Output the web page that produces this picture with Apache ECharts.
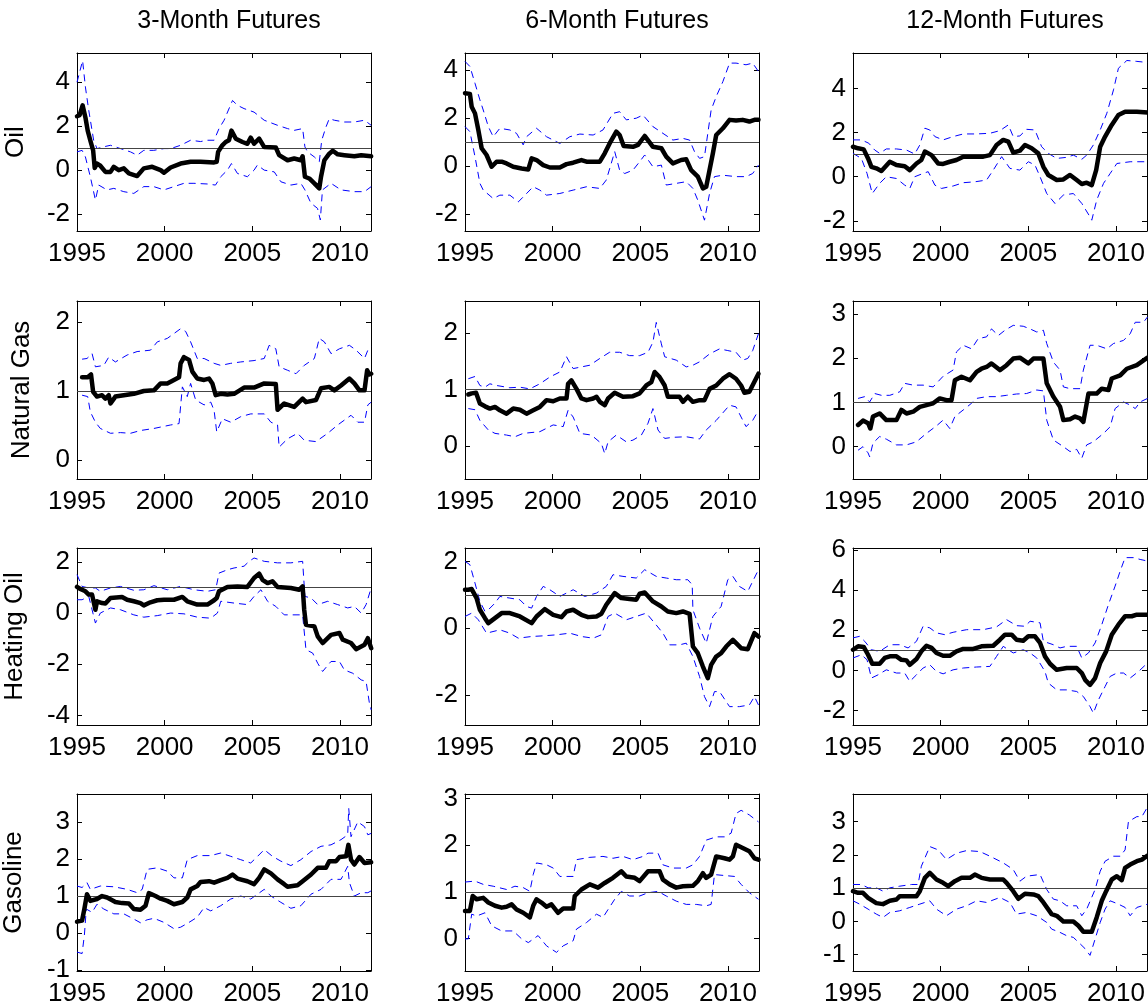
<!DOCTYPE html>
<html>
<head>
<meta charset="utf-8">
<script src="https://cdn.jsdelivr.net/npm/echarts@6/dist/echarts.min.js"></script>
<style>
  html, body { margin: 0; padding: 0; background: #fff; }
  #main { width: 1148px; height: 1007px; }
</style>
</head>
<body>
<div id="main"></div>
<script>
// ---- data: [year, value] ----
// Oil
var oil3Mid = [[1995,2.45],[1995.15,2.5],[1995.32,2.95],[1995.48,2.4],[1995.61,1.8],[1995.76,1.35],[1995.92,0.9],[1996.01,0.1],[1996.14,0.3],[1996.33,0.2],[1996.62,-0.08],[1996.91,-0.08],[1997.1,0.15],[1997.38,0],[1997.67,0.08],[1997.96,-0.15],[1998.43,-0.27],[1998.81,0.08],[1999.29,0.15],[1999.77,0],[1999.96,-0.12],[2000.34,0.12],[2000.91,0.3],[2001.48,0.38],[2002.05,0.38],[2002.82,0.35],[2002.97,0.38],[2003.05,0.83],[2003.29,1.13],[2003.48,1.28],[2003.67,1.36],[2003.81,1.8],[2004.06,1.43],[2004.44,1.28],[2004.72,1.2],[2004.91,1.48],[2005.1,1.2],[2005.39,1.43],[2005.68,1.05],[2006.34,1.03],[2006.53,0.68],[2007.01,0.45],[2007.39,0.53],[2007.77,0.45],[2007.87,0.63],[2008.0,-0.3],[2008.25,-0.38],[2008.54,-0.6],[2008.82,-0.83],[2008.92,-0.3],[2009.11,0.45],[2009.39,0.75],[2009.59,0.88],[2009.87,0.72],[2010.25,0.68],[2010.82,0.63],[2011.21,0.68],[2011.78,0.63]];
var oil3Hi = [[1995,4.0],[1995.32,4.98],[1995.48,3.78],[1995.67,2.72],[1995.95,1.36],[1996.14,0.98],[1996.52,1.06],[1996.91,1.13],[1997.48,0.98],[1998.05,0.83],[1998.43,0.68],[1998.81,0.9],[1999.38,0.9],[1999.96,0.98],[2000.34,0.98],[2000.91,1.13],[2001.48,1.36],[2002.05,1.3],[2002.43,1.36],[2002.82,1.36],[2003.1,1.89],[2003.39,2.27],[2003.87,3.17],[2004.15,2.95],[2004.53,2.8],[2005.1,2.64],[2005.68,2.27],[2006.44,2.04],[2007.01,1.89],[2007.39,1.81],[2007.87,1.89],[2008.0,1.06],[2008.15,0.83],[2008.54,0.6],[2008.82,0.38],[2008.96,1.36],[2009.2,1.96],[2009.39,2.34],[2009.68,2.27],[2010.25,2.19],[2010.82,2.19],[2011.4,2.27],[2011.78,2.04]];
var oil3Lo = [[1995,0.83],[1995.29,0.9],[1995.48,0.6],[1995.76,-0.3],[1996.05,-1.36],[1996.24,-0.68],[1996.71,-0.9],[1997.1,-0.83],[1997.67,-0.98],[1998.24,-1.06],[1998.81,-0.75],[1999.38,-0.75],[1999.96,-0.9],[2000.53,-0.75],[2001.1,-0.6],[2001.67,-0.6],[2002.43,-0.63],[2002.9,-0.68],[2003.2,-0.3],[2003.58,0],[2003.81,0.3],[2004.15,-0.15],[2004.72,-0.3],[2005.1,0],[2005.29,0.23],[2005.68,0],[2006.25,-0.08],[2006.63,-0.53],[2007.2,-0.68],[2007.77,-0.6],[2008.0,-0.9],[2008.34,-1.5],[2008.72,-1.74],[2008.88,-2.27],[2009.0,-0.9],[2009.49,-0.6],[2010.06,-0.9],[2010.82,-0.98],[2011.4,-0.98],[2011.78,-0.75]];

var oil6Mid = [[1995,3.03],[1995.28,3.0],[1995.38,2.47],[1995.57,2.19],[1995.76,1.5],[1995.95,0.74],[1996.23,0.46],[1996.52,-0.03],[1996.8,0.18],[1997.09,0.18],[1997.37,0.11],[1997.75,-0.03],[1998.23,-0.1],[1998.61,-0.14],[1998.8,0.32],[1999.08,0.25],[1999.46,0.04],[1999.84,-0.06],[2000.41,-0.06],[2000.79,0.08],[2001.17,0.14],[2001.64,0.25],[2001.93,0.18],[2002.69,0.18],[2002.97,0.53],[2003.25,0.94],[2003.63,1.43],[2003.82,1.29],[2004.05,0.83],[2004.58,0.8],[2004.87,0.88],[2005.25,1.25],[2005.72,0.8],[2006.2,0.74],[2006.48,0.39],[2006.86,0.11],[2007.33,0.25],[2007.62,0.28],[2007.9,-0.17],[2008.28,-0.44],[2008.57,-0.93],[2008.76,-0.86],[2008.91,-0.31],[2009.14,0.53],[2009.33,1.29],[2009.71,1.57],[2010.09,1.92],[2010.46,1.89],[2010.84,1.92],[2011.22,1.85],[2011.51,1.92],[2011.74,1.92]];
var oil6Hi = [[1995,4.35],[1995.28,4.14],[1995.57,3.44],[1995.85,2.75],[1996.04,2.33],[1996.33,1.64],[1996.61,1.22],[1996.99,1.57],[1997.56,1.5],[1997.94,1.36],[1998.32,0.88],[1998.51,1.22],[1999.08,1.57],[1999.65,1.22],[2000.41,0.94],[2000.98,1.22],[2001.55,1.33],[2002.31,1.29],[2002.87,1.5],[2003.44,2.19],[2003.82,2.26],[2004.2,1.92],[2004.77,1.99],[2005.15,2.12],[2005.72,1.64],[2006.29,1.36],[2006.86,1.08],[2007.43,1.15],[2007.81,1.08],[2008.09,0.6],[2008.38,0.32],[2008.66,0.39],[2009.04,2.33],[2009.33,2.89],[2009.71,3.51],[2010.09,4.28],[2010.46,4.28],[2011.03,4.21],[2011.41,4.28],[2011.74,3.93]];
var oil6Lo = [[1995,1.64],[1995.28,1.43],[1995.57,0.39],[1995.85,-0.72],[1996.04,-1.0],[1996.61,-1.35],[1996.99,-1.21],[1997.56,-1.21],[1998.04,-1.49],[1998.42,-1.21],[1998.89,-0.86],[1999.27,-1.0],[1999.65,-1.21],[2000.41,-1.14],[2001.17,-1.0],[2001.93,-0.86],[2002.69,-0.93],[2003.06,-0.58],[2003.54,0.6],[2003.82,-0.17],[2004.11,-0.31],[2004.58,-0.17],[2004.96,0.18],[2005.25,0.46],[2005.72,-0.03],[2006.2,0.04],[2006.48,-0.79],[2007.05,-0.72],[2007.62,-0.65],[2008.0,-0.93],[2008.28,-1.42],[2008.66,-2.25],[2008.95,-1.14],[2009.23,-0.44],[2009.71,-0.38],[2010.46,-0.44],[2011.03,-0.44],[2011.41,-0.31],[2011.74,0.04]];

var oil12Mid = [[1995,1.36],[1995.29,1.29],[1995.61,1.24],[1995.86,0.83],[1996.05,0.45],[1996.33,0.38],[1996.62,0.26],[1997.1,0.68],[1997.48,0.53],[1997.95,0.48],[1998.24,0.3],[1998.62,0.6],[1998.9,0.76],[1999.1,1.14],[1999.48,0.98],[1999.86,0.6],[2000.14,0.58],[2000.52,0.68],[2000.9,0.76],[2001.29,0.91],[2002.43,0.91],[2002.81,0.98],[2003.19,1.44],[2003.57,1.67],[2003.86,1.59],[2004.14,1.09],[2004.52,1.18],[2004.81,1.44],[2005.19,1.29],[2005.57,1.06],[2005.86,0.45],[2006.14,0.08],[2006.62,-0.15],[2007.0,-0.12],[2007.38,0.08],[2007.76,-0.15],[2008.05,-0.33],[2008.33,-0.27],[2008.62,-0.38],[2008.87,0.3],[2009.1,1.36],[2009.38,1.82],[2009.76,2.35],[2010.14,2.8],[2010.52,2.95],[2011.19,2.95],[2011.8,2.91]];
var oil12Hi = [[1995,1.67],[1995.48,1.67],[1995.9,1.52],[1996.24,1.21],[1996.52,1.06],[1996.9,1.26],[1997.48,1.26],[1998.05,1.21],[1998.52,1.03],[1998.81,1.44],[1999.1,2.2],[1999.38,2.12],[1999.67,1.82],[2000.14,1.67],[2000.71,1.82],[2001.29,1.94],[2002.05,1.94],[2002.81,1.97],[2003.38,2.09],[2003.86,2.35],[2004.14,1.82],[2004.52,1.85],[2004.9,2.15],[2005.38,2.12],[2005.76,1.36],[2006.14,1.06],[2006.62,0.83],[2007.19,0.88],[2007.57,0.98],[2008.05,0.79],[2008.33,0.98],[2008.71,1.44],[2009.1,2.12],[2009.48,2.88],[2009.86,3.94],[2010.14,4.92],[2010.62,5.27],[2011.19,5.23],[2011.8,5.18]];
var oil12Lo = [[1995,1.06],[1995.48,0.83],[1995.8,0.15],[1996.1,-0.76],[1996.52,-0.3],[1996.9,0],[1997.48,-0.08],[1997.95,-0.38],[1998.24,-0.53],[1998.52,0],[1999.0,0.15],[1999.29,0.23],[1999.67,-0.38],[2000.05,-0.53],[2000.71,-0.42],[2001.29,-0.27],[2001.95,-0.23],[2002.62,-0.15],[2003.0,0.3],[2003.48,0.91],[2003.95,0.38],[2004.52,0.3],[2005.0,0.68],[2005.38,0.53],[2005.67,0],[2006.05,-0.76],[2006.52,-1.21],[2007.0,-0.83],[2007.57,-0.76],[2008.05,-1.21],[2008.52,-1.82],[2008.62,-1.97],[2008.9,-1.06],[2009.29,-0.3],[2009.67,0.15],[2010.05,0.6],[2010.81,0.68],[2011.8,0.68]];

// Natural Gas
var gas3Mid = [[1995.29,1.2],[1995.61,1.2],[1995.8,1.24],[1995.92,0.99],[1996.14,0.92],[1996.43,0.94],[1996.62,0.89],[1996.81,0.94],[1996.91,0.82],[1997.19,0.92],[1997.67,0.94],[1998.24,0.96],[1998.81,1.0],[1999.39,1.01],[1999.77,1.11],[2000.15,1.11],[2000.53,1.16],[2000.82,1.2],[2000.91,1.4],[2001.1,1.49],[2001.39,1.45],[2001.58,1.28],[2001.86,1.18],[2002.25,1.16],[2002.53,1.18],[2002.72,1.11],[2002.91,0.94],[2003.2,0.96],[2003.58,0.95],[2003.96,0.96],[2004.53,1.05],[2005.1,1.05],[2005.68,1.11],[2006.34,1.1],[2006.44,0.73],[2006.82,0.82],[2007.39,0.77],[2007.87,0.89],[2008.06,0.84],[2008.63,0.87],[2008.92,1.04],[2009.39,1.06],[2009.68,1.01],[2010.06,1.08],[2010.54,1.18],[2010.82,1.11],[2011.11,1.01],[2011.4,1.01],[2011.55,1.3],[2011.68,1.24],[2011.78,1.25]];
var gas3Hi = [[1995.29,1.46],[1995.57,1.47],[1995.86,1.54],[1996.05,1.35],[1996.53,1.37],[1996.81,1.49],[1997.19,1.42],[1997.86,1.52],[1998.43,1.57],[1999.19,1.59],[1999.58,1.71],[2000.15,1.76],[2000.91,1.9],[2001.2,1.86],[2001.48,1.71],[2001.86,1.47],[2002.25,1.47],[2002.82,1.4],[2003.2,1.37],[2003.77,1.4],[2004.34,1.42],[2005.1,1.44],[2005.68,1.47],[2005.96,1.66],[2006.34,1.61],[2006.53,1.35],[2007.01,1.3],[2007.49,1.25],[2007.96,1.37],[2008.54,1.47],[2008.82,1.76],[2009.11,1.71],[2009.49,1.54],[2009.97,1.61],[2010.54,1.66],[2010.92,1.59],[2011.4,1.47],[2011.59,1.59],[2011.78,1.64]];
var gas3Lo = [[1995.29,0.94],[1995.61,0.92],[1995.76,0.7],[1996.05,0.55],[1996.33,0.46],[1996.91,0.39],[1997.48,0.4],[1998.05,0.39],[1998.62,0.43],[1999.39,0.46],[2000.34,0.51],[2000.82,0.53],[2001.01,1.06],[2001.29,0.92],[2001.48,1.11],[2001.77,0.87],[2002.25,0.8],[2002.63,0.84],[2002.82,0.72],[2002.97,0.41],[2003.29,0.6],[2003.77,0.55],[2004.34,0.63],[2004.91,0.67],[2005.68,0.67],[2006.06,0.55],[2006.44,0.51],[2006.53,0.19],[2007.01,0.31],[2007.58,0.39],[2007.96,0.29],[2008.63,0.27],[2009.3,0.39],[2009.87,0.51],[2010.25,0.58],[2010.63,0.65],[2011.02,0.55],[2011.4,0.55],[2011.59,0.8],[2011.78,0.84]];

var gas6Mid = [[1995.19,0.91],[1995.38,0.93],[1995.63,0.94],[1995.85,0.75],[1996.14,0.7],[1996.42,0.66],[1996.71,0.69],[1996.99,0.63],[1997.37,0.57],[1997.75,0.66],[1998.13,0.64],[1998.51,0.57],[1998.89,0.63],[1999.27,0.69],[1999.65,0.81],[2000.03,0.79],[2000.41,0.84],[2000.79,0.84],[2000.88,1.1],[2001.07,1.16],[2001.36,1.01],[2001.64,0.84],[2001.93,0.81],[2002.31,0.84],[2002.5,0.87],[2002.69,0.78],[2002.97,0.72],[2003.16,0.84],[2003.54,0.94],[2004.01,0.87],[2004.58,0.88],[2004.96,0.93],[2005.34,1.07],[2005.63,1.13],[2005.82,1.31],[2006.1,1.22],[2006.39,1.07],[2006.57,0.87],[2007.24,0.87],[2007.43,0.78],[2007.71,0.87],[2008.0,0.78],[2008.38,0.81],[2008.66,0.81],[2008.95,1.01],[2009.33,1.07],[2009.71,1.19],[2010.09,1.27],[2010.46,1.19],[2010.75,1.07],[2010.94,0.94],[2011.22,0.96],[2011.45,1.1],[2011.74,1.28]];
var gas6Hi = [[1995.19,1.19],[1995.57,1.23],[1995.85,1.07],[1996.14,1.04],[1996.42,1.1],[1996.8,1.07],[1997.56,1.03],[1998.13,1.04],[1998.7,1.01],[1999.27,1.1],[1999.84,1.22],[2000.41,1.31],[2000.79,1.58],[2001.17,1.37],[2001.64,1.4],[2002.12,1.43],[2002.69,1.55],[2003.25,1.66],[2003.82,1.66],[2004.39,1.6],[2004.96,1.6],[2005.44,1.66],[2005.72,1.84],[2005.91,2.19],[2006.2,1.81],[2006.39,1.58],[2007.05,1.52],[2007.62,1.4],[2008.0,1.43],[2008.38,1.49],[2008.95,1.63],[2009.52,1.72],[2009.99,1.69],[2010.46,1.66],[2010.84,1.52],[2011.13,1.55],[2011.41,1.69],[2011.74,1.99]];
var gas6Lo = [[1995.19,0.66],[1995.57,0.64],[1995.85,0.45],[1996.33,0.28],[1996.71,0.22],[1997.37,0.19],[1997.85,0.16],[1998.32,0.22],[1999.27,0.25],[2000.03,0.37],[2000.6,0.34],[2000.88,0.63],[2001.17,0.51],[2001.55,0.22],[2002.21,0.19],[2002.78,0.04],[2002.97,-0.14],[2003.16,0.07],[2003.63,0.19],[2004.2,0.07],[2004.58,0.1],[2005.06,0.19],[2005.44,0.4],[2005.72,0.66],[2006.01,0.28],[2006.39,0.13],[2006.86,0.15],[2007.62,0.16],[2008.38,0.12],[2008.76,0.28],[2009.33,0.45],[2010.09,0.72],[2010.46,0.69],[2010.75,0.51],[2011.03,0.34],[2011.41,0.45],[2011.74,0.63]];

var gas12Mid = [[1995.29,0.49],[1995.57,0.59],[1995.86,0.53],[1995.99,0.41],[1996.14,0.68],[1996.52,0.75],[1996.9,0.6],[1997.48,0.6],[1997.76,0.83],[1998.05,0.75],[1998.43,0.79],[1998.81,0.9],[1999.19,0.94],[1999.57,0.98],[1999.95,1.09],[2000.33,1.05],[2000.62,1.05],[2000.81,1.5],[2001.19,1.58],[2001.67,1.5],[2002.05,1.69],[2002.33,1.76],[2002.62,1.8],[2002.9,1.88],[2003.38,1.73],[2003.76,1.84],[2004.14,1.99],[2004.52,2.01],[2005.0,1.88],[2005.29,1.99],[2005.86,1.99],[2006.05,1.43],[2006.43,1.13],[2006.81,0.9],[2007.0,0.6],[2007.38,0.62],[2007.67,0.68],[2007.95,0.64],[2008.14,0.56],[2008.43,1.2],[2008.9,1.2],[2009.19,1.31],[2009.57,1.28],[2009.76,1.54],[2010.24,1.61],[2010.62,1.76],[2011.19,1.84],[2011.8,2.01]];
var gas12Hi = [[1995.29,1.09],[1995.67,1.13],[1995.95,1.01],[1996.24,1.2],[1996.62,1.16],[1997.1,1.16],[1997.67,1.24],[1997.95,1.43],[1998.43,1.39],[1999.0,1.39],[1999.57,1.35],[2000.14,1.59],[2000.71,1.73],[2000.9,2.14],[2001.29,2.29],[2001.76,2.21],[2002.14,2.44],[2002.62,2.48],[2002.9,2.66],[2003.29,2.51],[2003.67,2.63],[2004.14,2.74],[2004.71,2.72],[2005.1,2.66],[2005.48,2.59],[2005.86,2.63],[2006.05,2.33],[2006.43,1.91],[2006.81,1.73],[2007.0,1.35],[2007.38,1.31],[2007.95,1.31],[2008.14,1.73],[2008.52,2.29],[2008.9,2.29],[2009.48,2.21],[2009.86,2.33],[2010.43,2.4],[2010.81,2.55],[2011.1,2.81],[2011.57,2.81],[2011.8,2.93]];
var gas12Lo = [[1995.29,-0.08],[1995.57,0],[1995.86,-0.14],[1995.95,-0.23],[1996.14,0.08],[1996.52,0.23],[1996.9,0.17],[1997.48,0.04],[1998.05,0.04],[1998.62,0.11],[1999.19,0.3],[1999.76,0.47],[2000.14,0.6],[2000.52,0.41],[2000.81,0.68],[2001.29,0.83],[2001.76,0.98],[2002.05,1.09],[2002.62,1.13],[2003.19,1.13],[2003.76,1.16],[2004.33,1.19],[2004.9,1.2],[2005.48,1.28],[2005.86,1.26],[2006.05,0.6],[2006.43,0.15],[2007.0,0],[2007.38,-0.11],[2007.76,-0.06],[2008.05,-0.26],[2008.33,0.04],[2008.71,0.11],[2009.29,0.3],[2009.67,0.45],[2009.95,0.86],[2010.43,1.01],[2010.81,0.94],[2011.1,0.86],[2011.38,1.01],[2011.8,1.09]];

// Heating Oil
var heat3Mid = [[1995,1.02],[1995.19,0.94],[1995.48,0.85],[1995.67,0.72],[1995.86,0.72],[1996.05,0.13],[1996.14,0.46],[1996.43,0.39],[1996.62,0.37],[1996.91,0.59],[1997.57,0.63],[1997.86,0.52],[1998.24,0.46],[1998.62,0.39],[1998.81,0.3],[1999.19,0.42],[1999.58,0.5],[1999.96,0.52],[2000.53,0.52],[2001.01,0.63],[2001.29,0.46],[2001.86,0.33],[2002.44,0.33],[2002.82,0.5],[2002.97,0.59],[2003.1,0.85],[2003.58,1.02],[2004.15,1.04],[2004.72,1.02],[2005.1,1.37],[2005.39,1.54],[2005.58,1.3],[2005.87,1.17],[2006.15,1.24],[2006.44,1.02],[2007.2,0.98],[2007.68,0.91],[2007.87,1.04],[2007.96,0.13],[2008.06,-0.46],[2008.54,-0.52],[2008.73,-0.91],[2009.01,-1.17],[2009.49,-0.85],[2009.97,-0.78],[2010.16,-1.04],[2010.63,-1.17],[2010.92,-1.41],[2011.4,-1.24],[2011.59,-0.98],[2011.78,-1.37]];
var heat3Hi = [[1995,1.5],[1995.29,1.04],[1995.67,0.98],[1996.05,0.98],[1996.33,0.85],[1996.91,0.98],[1997.48,1.04],[1998.24,0.89],[1998.81,0.91],[1999.39,1.07],[2000.15,0.91],[2000.91,1.04],[2001.67,0.91],[2002.44,0.85],[2002.91,0.91],[2003.1,1.56],[2003.58,1.69],[2003.96,1.76],[2004.53,1.83],[2004.82,2.02],[2005.1,2.15],[2005.68,2.02],[2006.44,1.96],[2007.2,1.96],[2007.87,2.02],[2008.0,0.65],[2008.35,0.59],[2008.73,0.33],[2009.3,0.46],[2009.87,0.33],[2010.44,0.2],[2010.82,0.26],[2011.21,0],[2011.49,0.33],[2011.78,0.98]];
var heat3Lo = [[1995,0.52],[1995.29,0.52],[1995.67,0.65],[1996.05,-0.39],[1996.33,0],[1996.91,0.2],[1997.48,0.13],[1998.24,-0.07],[1998.81,-0.16],[1999.58,-0.1],[2000.34,0],[2001.1,-0.03],[2001.86,-0.16],[2002.63,-0.2],[2003.01,0],[2003.2,0.46],[2003.96,0.39],[2004.72,0.33],[2005.1,0.65],[2005.49,0.91],[2005.87,0.46],[2006.34,0.26],[2006.82,-0.07],[2007.87,-0.07],[2008.06,-1.43],[2008.44,-1.56],[2008.73,-1.96],[2009.01,-2.28],[2009.49,-1.89],[2009.97,-1.89],[2010.25,-2.22],[2010.73,-2.35],[2011.21,-2.61],[2011.49,-2.67],[2011.68,-3.52],[2011.78,-3.78]];

var heat6Mid = [[1995,1.15],[1995.19,1.15],[1995.38,1.17],[1995.66,0.9],[1995.85,0.55],[1996.14,0.3],[1996.33,0.15],[1996.71,0.3],[1997.09,0.45],[1997.56,0.45],[1998.13,0.35],[1998.8,0.15],[1999.08,0.35],[1999.55,0.57],[2000.03,0.4],[2000.5,0.33],[2000.79,0.5],[2001.17,0.55],[2001.64,0.4],[2002.02,0.33],[2002.5,0.35],[2002.78,0.43],[2003.06,0.7],[2003.54,1.05],[2003.92,0.9],[2004.39,0.87],[2004.77,0.85],[2004.96,1.03],[2005.25,1.07],[2005.72,0.8],[2006.2,0.65],[2006.57,0.5],[2007.05,0.45],[2007.43,0.5],[2007.81,0.43],[2008.0,-0.55],[2008.28,-0.75],[2008.57,-1.15],[2008.85,-1.5],[2009.04,-1.1],[2009.33,-0.85],[2009.61,-0.75],[2009.9,-0.55],[2010.28,-0.35],[2010.75,-0.6],[2011.13,-0.63],[2011.51,-0.15],[2011.74,-0.25]];
var heat6Hi = [[1995,2.0],[1995.28,1.9],[1995.57,1.35],[1995.85,0.8],[1996.14,0.5],[1996.33,0.55],[1996.71,0.75],[1996.99,0.95],[1997.56,0.9],[1998.13,0.85],[1998.51,0.65],[1998.8,0.6],[1999.08,0.95],[1999.46,1.25],[1999.84,1.15],[2000.41,0.95],[2001.17,1.15],[2001.83,0.95],[2002.5,1.05],[2003.06,1.25],[2003.44,1.6],[2004.01,1.55],[2004.77,1.5],[2005.25,1.75],[2005.91,1.55],[2006.48,1.5],[2007.05,1.45],[2007.71,1.45],[2007.96,1.3],[2008.0,0.55],[2008.38,0],[2008.76,-0.45],[2009.14,0.35],[2009.61,0.65],[2009.99,1.45],[2010.28,1.55],[2010.65,1.25],[2011.13,1.1],[2011.41,1.4],[2011.74,1.75]];
var heat6Lo = [[1995,0.35],[1995.38,0.45],[1995.76,0.25],[1996.23,-0.15],[1996.99,-0.05],[1997.56,-0.15],[1998.04,-0.3],[1998.8,-0.25],[1999.46,-0.23],[2000.22,-0.2],[2000.98,-0.15],[2001.64,-0.25],[2002.31,-0.3],[2002.78,-0.2],[2003.16,0.35],[2003.54,0.45],[2004.2,0.25],[2004.77,0.35],[2005.34,0.45],[2005.82,0.15],[2006.29,-0.15],[2006.67,-0.5],[2007.24,-0.5],[2007.62,-0.45],[2008.0,-0.85],[2008.38,-1.45],[2008.66,-2.05],[2008.95,-2.35],[2009.23,-1.9],[2009.52,-1.9],[2010.09,-2.35],[2010.65,-2.35],[2011.22,-2.3],[2011.51,-2.05],[2011.74,-2.3]];

var heat12Mid = [[1995,1.03],[1995.29,1.2],[1995.61,1.17],[1995.86,0.78],[1996.1,0.33],[1996.52,0.33],[1996.81,0.62],[1997.1,0.7],[1997.48,0.7],[1997.76,0.53],[1998.05,0.5],[1998.24,0.28],[1998.62,0.57],[1998.9,0.95],[1999.19,1.23],[1999.48,1.12],[1999.76,0.87],[2000.14,0.73],[2000.52,0.73],[2000.9,0.95],[2001.29,1.07],[2001.86,1.07],[2002.33,1.2],[2003.0,1.23],[2003.38,1.53],[2003.67,1.78],[2004.05,1.78],[2004.33,1.53],[2004.71,1.48],[2005.0,1.7],[2005.38,1.7],[2005.67,1.37],[2005.95,0.7],[2006.24,0.33],[2006.62,0.03],[2007.19,0.12],[2007.76,0.12],[2008.05,-0.13],[2008.24,-0.47],[2008.52,-0.72],[2008.81,-0.38],[2009.1,0.37],[2009.44,0.95],[2009.76,1.78],[2010.14,2.28],[2010.52,2.7],[2010.9,2.7],[2011.19,2.78],[2011.8,2.78]];
var heat12Hi = [[1995,1.62],[1995.38,1.7],[1995.67,1.45],[1996.05,1.03],[1996.52,0.95],[1997.1,1.28],[1997.67,1.28],[1998.14,1.12],[1998.62,1.45],[1999.0,2.2],[1999.38,2.12],[1999.76,1.87],[2000.24,1.78],[2000.71,1.9],[2001.48,2.03],[2002.43,2.03],[2003.19,2.17],[2003.76,2.53],[2004.33,2.23],[2004.81,2.2],[2005.1,2.45],[2005.67,2.37],[2005.86,1.45],[2006.43,1.28],[2006.81,1.12],[2007.19,1.2],[2007.76,1.2],[2008.05,0.62],[2008.43,0.87],[2008.81,1.37],[2009.19,2.28],[2009.57,3.28],[2009.95,4.2],[2010.24,4.95],[2010.52,5.62],[2011.0,5.62],[2011.38,5.53],[2011.8,5.45]];
var heat12Lo = [[1995,0.62],[1995.48,0.78],[1995.8,0.53],[1996.05,-0.38],[1996.43,-0.22],[1996.9,0.03],[1997.48,-0.13],[1997.95,-0.13],[1998.24,-0.55],[1998.62,-0.22],[1999.0,0.12],[1999.38,0.28],[1999.76,-0.05],[2000.14,-0.17],[2000.71,0.03],[2001.29,0.12],[2002.05,0.17],[2002.81,0.2],[2003.19,0.7],[2003.57,1.2],[2004.14,0.87],[2004.71,1.03],[2005.1,0.87],[2005.48,0.62],[2005.95,-0.05],[2006.14,-0.63],[2006.62,-0.97],[2007.19,-0.97],[2007.76,-1.05],[2008.14,-1.3],[2008.52,-1.8],[2008.71,-2.13],[2009.0,-1.47],[2009.38,-0.8],[2009.67,-0.3],[2010.05,-0.13],[2010.43,-0.13],[2010.81,-0.38],[2011.29,-0.05],[2011.8,0.37]];

// Gasoline
var gasl3Mid = [[1995,0.31],[1995.29,0.34],[1995.42,0.65],[1995.57,1.05],[1995.76,0.87],[1996.14,0.92],[1996.43,1.0],[1996.72,0.96],[1997.19,0.84],[1997.57,0.81],[1997.96,0.8],[1998.24,0.65],[1998.62,0.63],[1998.91,0.74],[1999.1,1.08],[1999.48,1.0],[1999.77,0.93],[2000.15,0.87],[2000.53,0.78],[2001.01,0.84],[2001.29,0.96],[2001.48,1.18],[2001.86,1.27],[2002.05,1.38],[2002.53,1.4],[2002.82,1.36],[2003.2,1.43],[2003.58,1.49],[2003.87,1.58],[2004.15,1.47],[2004.72,1.4],[2005.1,1.32],[2005.39,1.49],[2005.68,1.72],[2006.06,1.61],[2006.44,1.45],[2006.82,1.32],[2007.01,1.25],[2007.58,1.29],[2007.87,1.4],[2008.35,1.58],[2008.73,1.76],[2009.2,1.76],[2009.39,1.94],[2009.78,1.94],[2009.97,2.05],[2010.35,2.07],[2010.48,2.38],[2010.63,1.98],[2010.82,1.85],[2011.11,2.05],[2011.4,1.89],[2011.78,1.91]];
var gasl3Hi = [[1995,1.27],[1995.29,1.23],[1995.57,1.36],[1995.76,1.18],[1996.33,1.27],[1997.1,1.25],[1997.86,1.18],[1998.43,1.09],[1998.72,1.18],[1999.0,1.72],[1999.58,1.76],[2000.15,1.67],[2000.53,1.49],[2001.01,1.49],[2001.29,1.98],[2001.86,2.09],[2002.63,2.09],[2003.2,2.16],[2003.77,2.07],[2004.34,1.98],[2004.91,1.89],[2005.3,2.07],[2005.68,2.25],[2006.15,2.07],[2006.63,1.94],[2007.2,1.82],[2007.77,1.98],[2008.35,2.2],[2008.92,2.34],[2009.49,2.38],[2010.06,2.52],[2010.44,2.65],[2010.5,3.36],[2010.63,2.6],[2011.02,3.0],[2011.4,2.87],[2011.59,2.65],[2011.78,2.69]];
var gasl3Lo = [[1995,-0.51],[1995.29,-0.55],[1995.42,-0.06],[1995.53,0.65],[1995.86,0.56],[1996.14,0.78],[1996.53,0.65],[1997.1,0.52],[1997.67,0.52],[1998.24,0.38],[1998.62,0.28],[1999.0,0.36],[1999.39,0.4],[1999.96,0.29],[2000.53,0.12],[2000.91,0.16],[2001.39,0.29],[2001.86,0.43],[2002.25,0.69],[2002.63,0.6],[2003.2,0.74],[2003.77,0.92],[2004.34,1.0],[2004.91,0.92],[2005.68,1.18],[2006.06,1.0],[2006.63,0.83],[2007.2,0.67],[2007.77,0.74],[2008.35,1.05],[2008.92,1.18],[2009.49,1.45],[2010.06,1.45],[2010.44,1.8],[2010.54,1.36],[2010.82,1.0],[2011.21,1.09],[2011.59,1.09],[2011.78,1.14]];

var gasl6Mid = [[1995,0.59],[1995.28,0.59],[1995.44,0.91],[1995.66,0.84],[1996.04,0.87],[1996.33,0.77],[1996.71,0.7],[1997.09,0.66],[1997.37,0.68],[1997.66,0.73],[1997.94,0.62],[1998.32,0.55],[1998.7,0.45],[1998.89,0.7],[1999.08,0.84],[1999.36,0.77],[1999.65,0.68],[1999.93,0.73],[2000.31,0.55],[2000.6,0.64],[2001.17,0.64],[2001.26,0.91],[2001.64,1.05],[2002.12,1.16],[2002.59,1.09],[2002.97,1.19],[2003.44,1.3],[2003.92,1.44],[2004.2,1.33],[2004.68,1.3],[2004.96,1.23],[2005.44,1.44],[2006.1,1.44],[2006.29,1.26],[2006.67,1.16],[2007.05,1.09],[2007.43,1.12],[2008.0,1.13],[2008.28,1.23],[2008.57,1.4],[2008.76,1.3],[2009.04,1.37],[2009.33,1.76],[2009.8,1.72],[2010.09,1.69],[2010.28,1.76],[2010.46,2.01],[2010.84,1.94],[2011.22,1.87],[2011.51,1.72],[2011.74,1.69]];
var gasl6Hi = [[1995,1.21],[1995.57,1.23],[1996.04,1.16],[1996.61,1.12],[1997.37,1.05],[1997.85,1.12],[1998.32,1.09],[1998.7,1.01],[1998.89,1.37],[1999.08,1.62],[1999.65,1.58],[2000.03,1.51],[2000.41,1.33],[2001.17,1.33],[2001.36,1.69],[2002.12,1.74],[2002.87,1.76],[2003.44,1.72],[2004.01,1.76],[2004.58,1.69],[2005.15,1.76],[2005.44,1.83],[2006.01,1.83],[2006.29,1.58],[2006.86,1.51],[2007.62,1.51],[2008.0,1.58],[2008.38,1.76],[2008.76,2.11],[2009.33,2.18],[2009.8,2.18],[2010.18,2.26],[2010.46,2.68],[2010.75,2.75],[2011.22,2.65],[2011.74,2.5]];
var gasl6Lo = [[1995,-0.01],[1995.19,-0.01],[1995.38,0.52],[1995.66,0.48],[1996.14,0.55],[1996.52,0.27],[1997.09,0.16],[1997.75,0.16],[1998.23,-0.01],[1998.61,-0.09],[1999.17,0.06],[1999.65,-0.16],[2000.22,-0.3],[2000.6,-0.16],[2001.17,-0.05],[2001.36,0.2],[2001.93,0.34],[2002.5,0.52],[2002.87,0.45],[2003.16,0.62],[2003.54,0.84],[2003.92,1.01],[2004.39,0.91],[2004.96,0.91],[2005.44,0.98],[2006.01,1.01],[2006.48,0.91],[2007.05,0.8],[2007.62,0.73],[2008.19,0.73],[2008.76,0.7],[2009.04,0.73],[2009.23,1.37],[2009.8,1.35],[2010.37,1.33],[2010.75,1.16],[2011.22,0.98],[2011.74,0.84]];

var gasl12Mid = [[1995,0.91],[1995.29,0.86],[1995.57,0.86],[1995.86,0.71],[1996.33,0.55],[1996.71,0.52],[1997.1,0.62],[1997.48,0.66],[1997.67,0.76],[1998.62,0.76],[1998.81,0.91],[1999.1,1.31],[1999.38,1.46],[1999.76,1.26],[2000.14,1.16],[2000.43,1.06],[2000.81,1.21],[2001.19,1.31],[2001.67,1.31],[2001.95,1.41],[2002.33,1.31],[2002.81,1.26],[2003.57,1.26],[2003.76,1.16],[2004.14,0.91],[2004.43,0.68],[2004.81,0.83],[2005.29,0.81],[2005.57,0.76],[2005.86,0.57],[2006.33,0.22],[2006.62,0.17],[2007.0,0],[2007.57,0],[2007.86,-0.13],[2008.14,-0.31],[2008.62,-0.31],[2008.9,0.12],[2009.19,0.62],[2009.44,0.91],[2009.76,1.26],[2010.05,1.36],[2010.33,1.24],[2010.52,1.61],[2010.81,1.71],[2011.19,1.81],[2011.48,1.86],[2011.8,1.98]];
var gasl12Hi = [[1995,1.11],[1995.48,1.11],[1995.86,1.01],[1996.33,1.01],[1996.71,0.91],[1997.1,1.01],[1997.67,1.06],[1998.33,1.11],[1998.71,1.11],[1998.9,1.66],[1999.38,2.25],[1999.86,2.15],[2000.33,1.86],[2000.9,2.05],[2001.48,2.13],[2002.24,2.1],[2002.81,1.96],[2003.57,1.76],[2004.14,1.56],[2004.52,1.21],[2004.9,1.36],[2005.67,1.41],[2006.05,0.96],[2006.43,0.67],[2006.81,0.62],[2007.19,0.47],[2007.76,0.47],[2008.05,0.17],[2008.33,0.37],[2008.81,0.96],[2009.1,1.51],[2009.38,1.81],[2009.86,1.96],[2010.24,1.96],[2010.52,2.15],[2010.71,3.0],[2011.19,3.15],[2011.48,3.15],[2011.8,3.44]];
var gasl12Lo = [[1995,0.62],[1995.38,0.52],[1995.86,0.37],[1996.33,0.22],[1996.71,0.12],[1997.1,0.27],[1997.67,0.32],[1998.24,0.42],[1998.81,0.52],[1999.38,0.62],[1999.76,0.37],[2000.33,0.17],[2000.9,0.37],[2001.48,0.47],[2002.05,0.62],[2002.62,0.57],[2003.38,0.72],[2003.95,0.57],[2004.33,0.22],[2004.9,0.27],[2005.48,0.17],[2006.05,-0.03],[2006.33,-0.23],[2006.81,-0.33],[2007.19,-0.43],[2007.57,-0.48],[2007.95,-0.67],[2008.24,-0.82],[2008.52,-1.02],[2008.81,-0.53],[2009.1,-0.03],[2009.38,0.37],[2009.67,0.62],[2010.14,0.52],[2010.52,0.42],[2010.81,0.17],[2011.19,0.42],[2011.8,0.52]];

var commodities = ['Oil', 'Natural Gas', 'Heating Oil', 'Gasoline'];
var horizons = ['3-Month Futures', '6-Month Futures', '12-Month Futures'];
var yearTicks = [1995, 2000, 2005, 2010];

// panels row by row: [lower band, estimate, upper band]
var panels = [
    [oil3Lo, oil3Mid, oil3Hi], [oil6Lo, oil6Mid, oil6Hi], [oil12Lo, oil12Mid, oil12Hi],
    [gas3Lo, gas3Mid, gas3Hi], [gas6Lo, gas6Mid, gas6Hi], [gas12Lo, gas12Mid, gas12Hi],
    [heat3Lo, heat3Mid, heat3Hi], [heat6Lo, heat6Mid, heat6Hi], [heat12Lo, heat12Mid, heat12Hi],
    [gasl3Lo, gasl3Mid, gasl3Hi], [gasl6Lo, gasl6Mid, gasl6Hi], [gasl12Lo, gasl12Mid, gasl12Hi]
];
var yTicks = [
    [-2, 0, 2, 4], [-2, 0, 2, 4], [-2, 0, 2, 4],
    [0, 1, 2], [0, 1, 2], [0, 1, 2, 3],
    [-4, -2, 0, 2], [-2, 0, 2], [-2, 0, 2, 4, 6],
    [-1, 0, 1, 2, 3], [0, 1, 2, 3], [-1, 0, 1, 2, 3]
];
var yLimits = [
    [-2.77, 5.33], [-2.70, 4.70], [-2.46, 5.61],
    [-0.27, 2.30], [-0.59, 2.57], [-0.73, 3.29],
    [-4.37, 2.54], [-2.90, 2.40], [-2.72, 6.10],
    [-1.02, 3.75], [-0.70, 3.10], [-1.49, 3.83]
];

// layout of the 4x3 grid (px)
var colLeft = [77, 465, 853];
var colWidth = 294;
var rowTop = [53, 301, 548, 794];
var rowHeight = [178, 178, 177, 179];
var yNameGap = [48, 42, 49, 50];
var font = 'Liberation Sans, Arial, Helvetica, sans-serif';

function plainNumber(v) {
    return String(v);
}

var grids = [], xAxes = [], yAxes = [], series = [], titles = [];

horizons.forEach(function (h, c) {
    titles.push({
        text: h,
        left: colLeft[c] + colWidth / 2,
        top: 4,
        textAlign: 'center',
        textStyle: { fontFamily: font, fontSize: 25, fontWeight: 'normal', color: '#000' }
    });
});

panels.forEach(function (p, i) {
    var r = Math.floor(i / 3), c = i % 3;
    grids.push({ left: colLeft[c], top: rowTop[r], width: colWidth, height: rowHeight[r] });

    var xBase = {
        type: 'value', gridIndex: i, min: 1995, max: 2011.77,
        axisLine: { show: true, onZero: false, lineStyle: { color: '#000', width: 1 } },
        axisTick: { show: true, inside: true, length: 5, customValues: yearTicks, lineStyle: { color: '#000' } },
        splitLine: { show: false }
    };
    xAxes.push(Object.assign({}, xBase, {
        position: 'bottom',
        axisLabel: { customValues: yearTicks, formatter: plainNumber, fontFamily: font, fontSize: 26, color: '#000', margin: 10 }
    }));
    xAxes.push(Object.assign({}, xBase, { position: 'top', axisLabel: { show: false } }));

    var yBase = {
        type: 'value', gridIndex: i, min: yLimits[i][0], max: yLimits[i][1],
        axisLine: { show: true, onZero: false, lineStyle: { color: '#000', width: 1 } },
        axisTick: { show: true, inside: true, length: 5, customValues: yTicks[i], lineStyle: { color: '#000' } },
        splitLine: { show: false }
    };
    var yLeft = Object.assign({}, yBase, {
        position: 'left',
        axisLabel: { customValues: yTicks[i], formatter: plainNumber, fontFamily: font, fontSize: 26, color: '#000', margin: 7 }
    });
    if (c === 0) {
        yLeft.name = commodities[r];
        yLeft.nameLocation = 'middle';
        yLeft.nameGap = yNameGap[r];
        yLeft.nameTextStyle = { fontFamily: font, fontSize: 26, color: '#000' };
    }
    yAxes.push(yLeft);
    yAxes.push(Object.assign({}, yBase, { position: 'right', axisLabel: { show: false } }));

    var xi = i * 2, yi = i * 2;
    // dashed bands
    [p[0], p[2]].forEach(function (band, k) {
        var s = {
            type: 'line', xAxisIndex: xi, yAxisIndex: yi, data: band,
            showSymbol: false, symbol: 'none', z: 2,
            lineStyle: { color: '#0000ff', width: 1, type: [7, 5] }
        };
        if (k === 0) {
            // reference line at 1
            s.markLine = {
                silent: true, symbol: 'none', label: { show: false },
                lineStyle: { color: '#444', width: 1, type: 'solid' },
                data: [{ yAxis: 1 }]
            };
        }
        series.push(s);
    });
    // point estimate
    series.push({
        type: 'line', xAxisIndex: xi, yAxisIndex: yi, data: p[1],
        showSymbol: false, symbol: 'none', z: 5,
        lineStyle: { color: '#000', width: 4.5, join: 'round', cap: 'round' }
    });
});

var chart = echarts.init(document.getElementById('main'), null, { renderer: 'canvas' });
chart.setOption({
    animation: false,
    backgroundColor: '#fff',
    title: titles,
    grid: grids,
    xAxis: xAxes,
    yAxis: yAxes,
    series: series
});
</script>
</body>
</html>
